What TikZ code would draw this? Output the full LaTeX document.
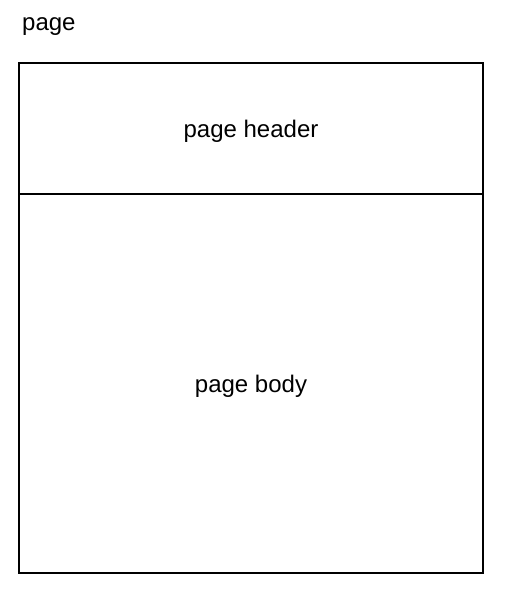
\documentclass[tikz,border=0pt]{standalone}
\usepackage{fontspec}
\setmainfont{Liberation Sans}
\usetikzlibrary{positioning}

\tikzset{
  part/.style={draw, line width=2pt, minimum width=464pt, inner sep=0pt,
    outer sep=0pt, text depth=0pt, font=\fontsize{24}{28}\selectfont},
  caption/.style={inner sep=0pt, font=\fontsize{24}{28}\selectfont},
}

\begin{document}
\begin{tikzpicture}[x=1pt, y=-1pt]
  % Margins of the whole picture
  \useasboundingbox (0,0) rectangle (506,594);

  % Title of the page
  \node[caption, anchor=base west] (title) at (22,31) {page};

  % Header and body of the page
  \node[part, minimum height=131pt, anchor=north west] (header) at (19,63) {page header};
  \node[part, minimum height=379pt, anchor=north] (body) at (header.south) {page body};
\end{tikzpicture}
\end{document}
